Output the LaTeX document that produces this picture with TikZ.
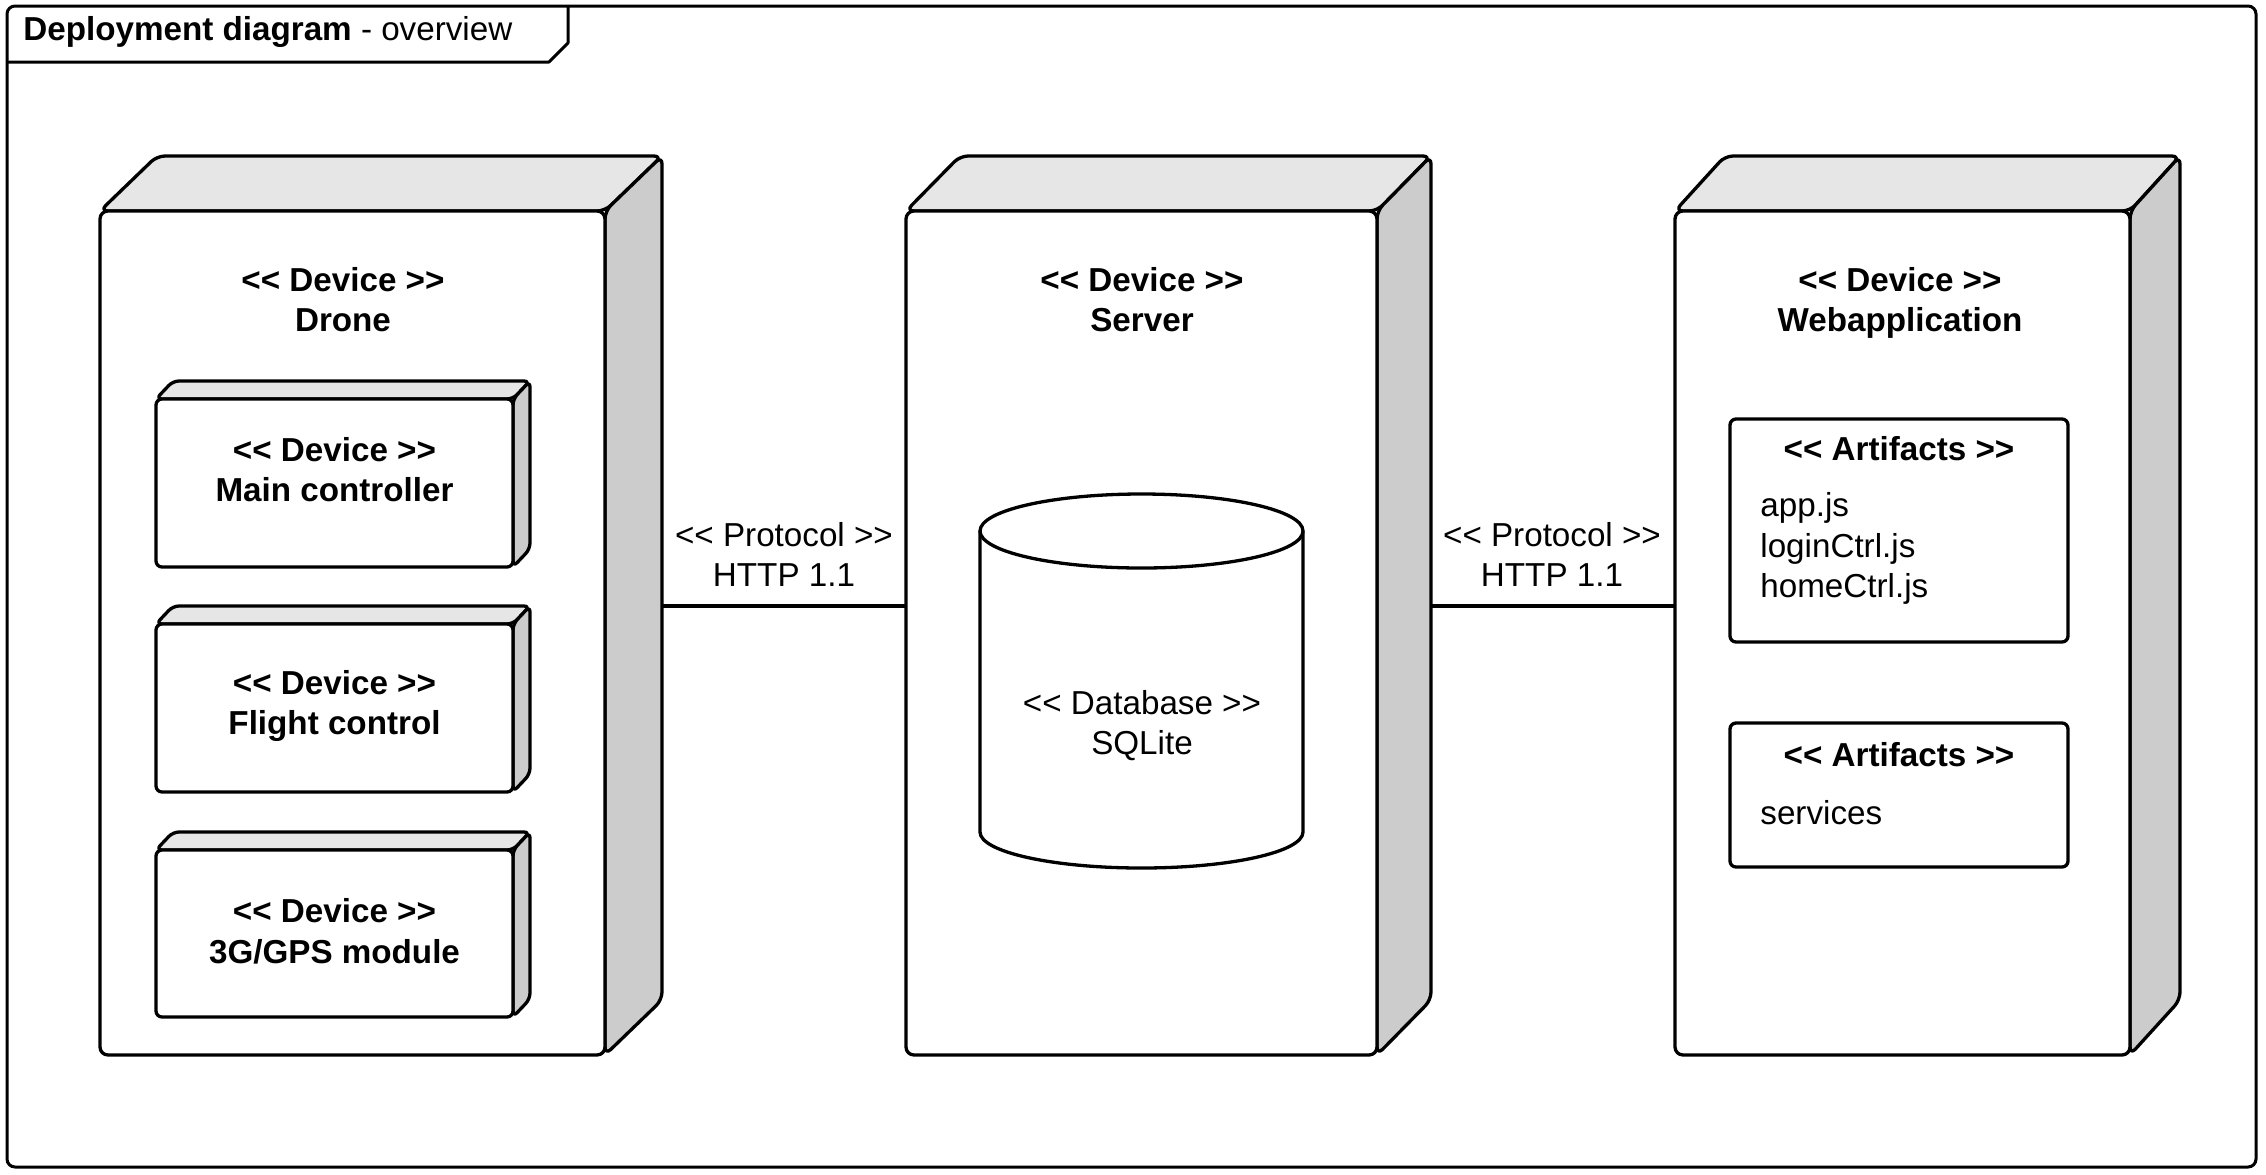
\documentclass[tikz,border=0pt]{standalone}
\usepackage{fontspec}
\setmainfont{Liberation Sans}
\usetikzlibrary{fit}
\definecolor{topgray}{HTML}{E6E6E6}
\definecolor{sidegray}{HTML}{CCCCCC}
\newcommand\stl{<{}<}
\newcommand\stg{>{}>}
\tikzset{
  outline/.style={line width=1.65pt, line join=round},
  bigtop/.style={outline, fill=topgray, rounded corners=4pt},
  bigside/.style={outline, fill=sidegray, rounded corners=4pt},
  bigfront/.style={outline, draw, fill=white, rounded corners=4pt, inner sep=0pt, outer sep=0pt},
  smalltop/.style={outline, fill=topgray, rounded corners=3pt},
  smallside/.style={outline, fill=sidegray, rounded corners=3pt},
  smallfront/.style={outline, draw, fill=white, rounded corners=3pt, inner sep=0pt, outer sep=0pt},
  rlbl/.style={font=\fontsize{16.6}{20.25}\selectfont, inner sep=0pt, anchor=base},
  blbl/.style={font=\fontsize{16.6}{20.25}\selectfont\bfseries, inner sep=0pt, anchor=base},
  link/.style={line width=1.6pt},
  framebox/.style={line width=1.5pt, rounded corners=4pt},
}
% name, x1, y1, x2, y2, dx, dy, style prefix
\newcommand\devbox[8]{%
  \filldraw[#8top] (#2,#3) -- (#2+#6,#3-#7) -- (#4+#6,#3-#7) -- (#4,#3) -- cycle;
  \filldraw[#8side] (#4,#3) -- (#4+#6,#3-#7) -- (#4+#6,#5-#7) -- (#4,#5) -- cycle;
  \coordinate (#1-tl) at (#2,#3);
  \coordinate (#1-br) at (#4,#5);
  \coordinate (#1-back) at (#4+#6,#3-#7);
  \node[#8front, fit=(#1-tl)(#1-br)] (#1) {};
}
\begin{document}
\begin{tikzpicture}[x=0.5pt, y=-0.5pt]
\useasboundingbox (0,0) rectangle (2266,1174);
\fill[white] (0,0) rectangle (2266,1174);

% frame
\coordinate (fr-tl) at (7,6);
\coordinate (fr-br) at (2256,1167);
\draw[framebox] (fr-tl) rectangle (fr-br);
\draw[line width=1.5pt, line join=round] (7,62) -- (549,62) -- (568,43) -- (568,6);
\node[anchor=base west, inner sep=0pt, font=\fontsize{16.6}{20.25}\selectfont] (title) at (23,40)
  {\textbf{Deployment diagram} - overview};

% devices
\devbox{drone}{100}{211}{605}{1055}{57}{55}{big}
\devbox{server}{906}{211}{1377}{1055}{54}{55}{big}
\devbox{webapp}{1675}{211}{2130}{1055}{50}{55}{big}

\node[blbl] (drone-s) at (343,291) {\stl{} Device \stg};
\node[blbl] (drone-n) at (343,331) {Drone};
\node[blbl] (server-s) at (1142,291) {\stl{} Device \stg};
\node[blbl] (server-n) at (1142,331) {Server};
\node[blbl] (webapp-s) at (1900,291) {\stl{} Device \stg};
\node[blbl] (webapp-n) at (1900,331) {Webapplication};

% sub devices
\devbox{mainc}{156}{399}{513}{567}{17}{18}{small}
\devbox{flight}{156}{624}{513}{792}{17}{18}{small}
\devbox{gps}{156}{850}{513}{1017}{17}{18}{small}
\node[blbl] (mainc-s) at (334.5,461) {\stl{} Device \stg};
\node[blbl] (mainc-n) at (334.5,501) {Main controller};
\node[blbl] (flight-s) at (334.5,694) {\stl{} Device \stg};
\node[blbl] (flight-n) at (334.5,734.5) {Flight control};
\node[blbl] (gps-s) at (334.5,922.5) {\stl{} Device \stg};
\node[blbl] (gps-n) at (334.5,963) {3G/GPS module};

% database cylinder
\draw[outline, fill=white] (980,531) -- (980,832)
  arc[start angle=180, end angle=360, x radius=80.75pt, y radius=18pt]
  -- (1303,531)
  arc[start angle=0, end angle=180, x radius=80.75pt, y radius=18.5pt] -- cycle;
\draw[outline] (980,531) arc[start angle=180, end angle=360, x radius=80.75pt, y radius=18.5pt];
\node[rlbl] (db-s) at (1142,714) {\stl{} Database \stg};
\node[rlbl] (db-n) at (1142,754) {SQLite};

% artifacts
\coordinate (art1-tl) at (1730,419);
\coordinate (art1-br) at (2068,642);
\node[smallfront, fit=(art1-tl)(art1-br)] (art1) {};
\node[blbl] (art1-s) at (1899,460) {\stl{} Artifacts \stg};
\node[rlbl, anchor=base west] (art1-a) at (1760,516) {app.js};
\node[rlbl, anchor=base west] (art1-b) at (1760,557) {loginCtrl.js};
\node[rlbl, anchor=base west] (art1-c) at (1760,597) {homeCtrl.js};

\coordinate (art2-tl) at (1730,723);
\coordinate (art2-br) at (2068,867);
\node[smallfront, fit=(art2-tl)(art2-br)] (art2) {};
\node[blbl] (art2-s) at (1899,766) {\stl{} Artifacts \stg};
\node[rlbl, anchor=base west] (art2-a) at (1760,824) {services};

% connectors
\coordinate (ly) at (0,606);
\draw[link] (drone-back |- ly) -- (server.west |- ly);
\draw[link] (server-back |- ly) -- (webapp.west |- ly);
\node[rlbl] (p1-s) at (784,546) {\stl{} Protocol \stg};
\node[rlbl] (p1-n) at (784,586) {HTTP 1.1};
\node[rlbl] (p2-s) at (1552,546) {\stl{} Protocol \stg};
\node[rlbl] (p2-n) at (1552,586) {HTTP 1.1};
\end{tikzpicture}
\end{document}
